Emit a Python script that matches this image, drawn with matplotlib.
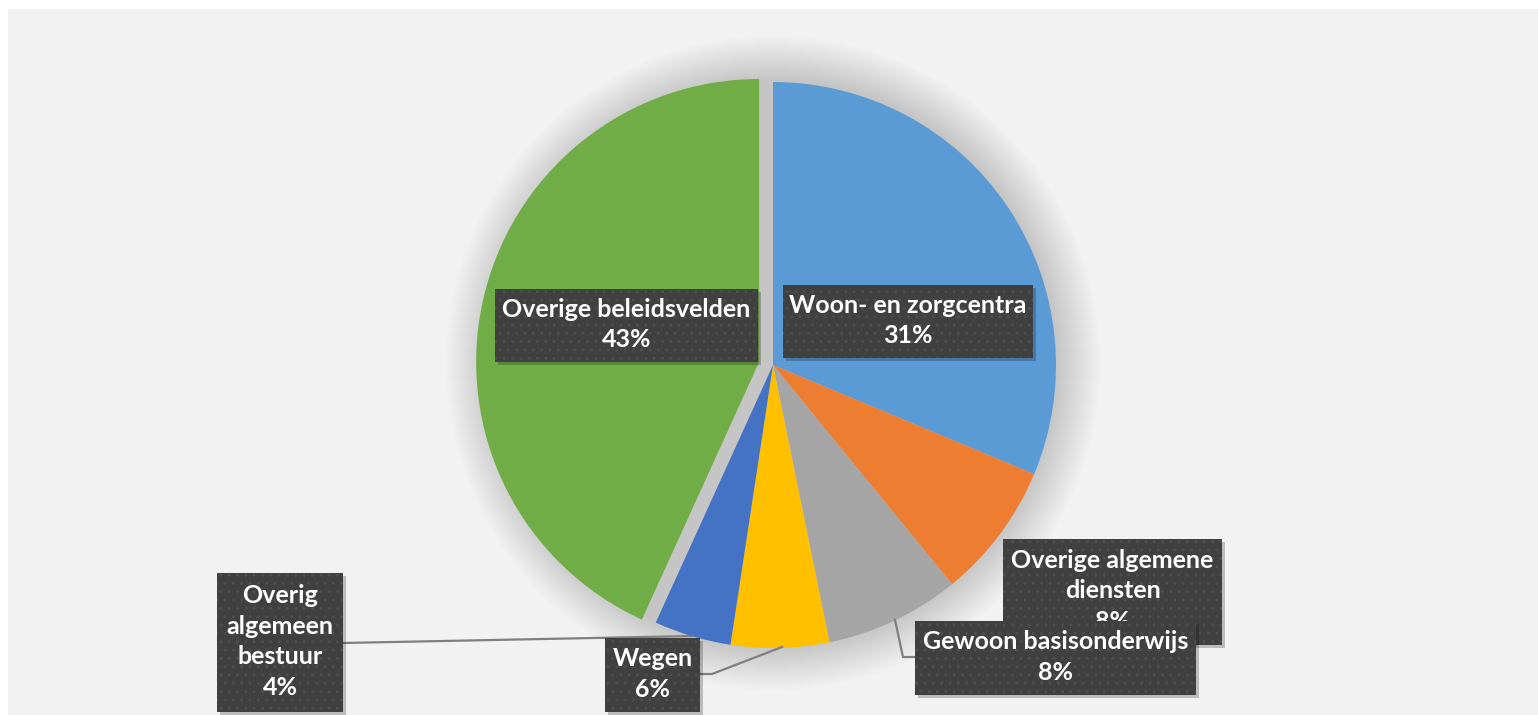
import matplotlib
matplotlib.use("Agg")
import matplotlib.pyplot as plt
from matplotlib.patches import Rectangle, Circle
import numpy as np

# ---- data ----
categories = ["Woon- en zorgcentra", "Overige algemene\ndiensten", "Gewoon basisonderwijs",
              "Wegen", "Overig\nalgemeen\nbestuur", "Overige beleidsvelden"]
values = [31.3, 7.8, 7.7, 5.6, 4.4, 43.2]
colors = ["#5B9BD5", "#ED7D31", "#A5A5A5", "#FFC000", "#4472C4", "#70AD47"]
explode_frac = [0, 0, 0, 0, 0, 0.05]

W, H = 1538, 715
fig = plt.figure(figsize=(W / 100, H / 100), dpi=100, facecolor="white")
ax = fig.add_axes([0, 0, 1, 1])

def py(y):
    return H - y

cx, cy, R = 773, py(365), 283

# background panel
ax.add_patch(Rectangle((8, 0), W - 8, py(9), facecolor="#F2F2F2", edgecolor="none", zorder=0))

# soft shadow around the pie
for i in range(45, 0, -1):
    ax.add_patch(Circle((cx, cy + 2), R + i, facecolor="black", edgecolor="none",
                        alpha=0.003, zorder=1))

wedges, _ = ax.pie(values, colors=colors, explode=[e * R for e in explode_frac],
                   startangle=90, counterclock=False,
                   center=(cx, cy), radius=R, frame=True,
                   wedgeprops=dict(linewidth=0, zorder=2))
ax.set_xlim(0, W)
ax.set_ylim(0, H)
ax.set_aspect("equal")
ax.axis("off")

total = sum(values)
pcts = [f"{v / total * 100:.0f}%" for v in values]

# label boxes (pixel coords: x0, y0 top, x1, y1 bottom)
boxes = [
    (783, 285, 1033, 358),
    (1003, 539, 1222, 645),
    (915, 621, 1196, 695),
    (605, 638, 700, 712),
    (217, 573, 343, 712),
    (495, 289, 758, 362),
]
draw_order = [5, 0, 4, 3, 1, 2]

line_color = "#7F7F7F"
# leader lines
ax.plot([895, 903, 915], [py(620), py(657), py(657)], color=line_color, lw=1.6, zorder=3)
ax.plot([700, 712, 782], [py(674), py(674), py(647)], color=line_color, lw=1.6, zorder=3)
ax.plot([343, 693], [py(643), py(636)], color=line_color, lw=1.6, zorder=3)

for k, i in enumerate(draw_order):
    x0, y0, x1, y1 = boxes[i]
    z = 4 + k * 0.1
    ax.add_patch(Rectangle((x0 + 3, py(y1) - 3), x1 - x0, y1 - y0, facecolor="black",
                           alpha=0.22, edgecolor="none", zorder=z))
    ax.add_patch(Rectangle((x0, py(y1)), x1 - x0, y1 - y0, facecolor="#404040",
                           edgecolor="none", zorder=z + 0.01))
    ax.add_patch(Rectangle((x0, py(y1)), x1 - x0, y1 - y0, fill=False, hatch="..",
                           edgecolor="#4E4E4E", linewidth=0, zorder=z + 0.02))
    ax.text((x0 + x1) / 2, py((y0 + y1) / 2) + 1, categories[i] + "\n" + pcts[i],
            ha="center", va="center",
            multialignment="center", color="white", fontsize=18, fontweight="bold",
            family=["Lato", "DejaVu Sans"], linespacing=1.4, zorder=z + 0.03)

fig.savefig("out.png", dpi=100, facecolor="white")
